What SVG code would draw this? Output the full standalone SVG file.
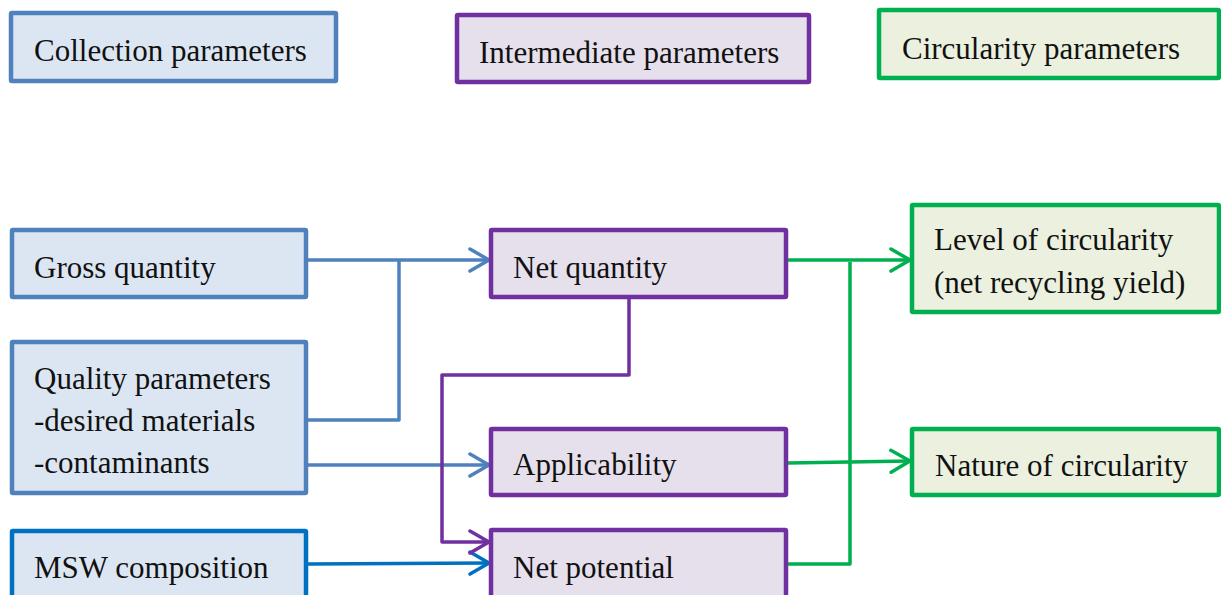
<svg xmlns="http://www.w3.org/2000/svg" width="1221" height="595" viewBox="0 0 1221 595">
<style>
text{font-family:"Liberation Serif","Times New Roman",serif;font-size:31px;fill:#111}
.b{fill:#DCE6F2;stroke:#4F81BD;stroke-width:4.5}
.b2{fill:#DCE6F2;stroke:#0070C0;stroke-width:4.5}
.p{fill:#E6E0EC;stroke:#7030A0;stroke-width:4.5}
.g{fill:#EBF1DE;stroke:#00B050;stroke-width:4.5}
.c{fill:none;stroke-width:3.5;stroke-linejoin:round}
</style>
<defs>
<marker id="ab" viewBox="0 0 24 26" refX="21" refY="13" markerWidth="24" markerHeight="26" markerUnits="userSpaceOnUse" orient="auto"><path d="M2,2 L21,13 L2,24" fill="none" stroke="#4F81BD" stroke-width="3.5" stroke-linecap="round" stroke-linejoin="round"/></marker>
<marker id="ab2" viewBox="0 0 24 26" refX="21" refY="13" markerWidth="24" markerHeight="26" markerUnits="userSpaceOnUse" orient="auto"><path d="M2,2 L21,13 L2,24" fill="none" stroke="#0070C0" stroke-width="3.5" stroke-linecap="round" stroke-linejoin="round"/></marker>
<marker id="ap" viewBox="0 0 24 26" refX="21" refY="13" markerWidth="24" markerHeight="26" markerUnits="userSpaceOnUse" orient="auto"><path d="M2,2 L21,13 L2,24" fill="none" stroke="#7030A0" stroke-width="3.5" stroke-linecap="round" stroke-linejoin="round"/></marker>
<marker id="ag" viewBox="0 0 24 26" refX="21" refY="13" markerWidth="24" markerHeight="26" markerUnits="userSpaceOnUse" orient="auto"><path d="M2,2 L21,13 L2,24" fill="none" stroke="#00B050" stroke-width="3.5" stroke-linecap="round" stroke-linejoin="round"/></marker>
</defs>
<g id="connectors">
<path class="c" stroke="#4F81BD" d="M308,260 L489,260" marker-end="url(#ab)"/>
<path class="c" stroke="#4F81BD" stroke-width="3" d="M308,420 L399,420 L399,260"/>
<path class="c" stroke="#4F81BD" d="M308,465 L489,465" marker-end="url(#ab)"/>
<path class="c" stroke="#0070C0" d="M308,564 L489,563" marker-end="url(#ab2)"/>
<path class="c" stroke="#7030A0" d="M629,298 L629,375 L442,375 L442,542 L489,542" marker-end="url(#ap)"/>
<path class="c" stroke="#00B050" d="M788,260 L910,260" marker-end="url(#ag)"/>
<path class="c" stroke="#00B050" d="M788,463 L910,461" marker-end="url(#ag)"/>
<path class="c" stroke="#00B050" stroke-width="3" d="M788,564 L850,564 L850,262"/>
</g>
<g id="collection-parameters"><rect class="b" x="11" y="13" width="325" height="68" rx="1"/><text x="34" y="61">Collection parameters</text></g>
<g id="intermediate-parameters"><rect class="p" x="457" y="15" width="352" height="67" rx="1"/><text x="479" y="63">Intermediate parameters</text></g>
<g id="circularity-parameters"><rect class="g" x="879" y="10" width="340" height="68" rx="1"/><text x="902" y="59">Circularity parameters</text></g>
<g id="gross-quantity"><rect class="b" x="12" y="230" width="294" height="67" rx="1"/><text x="34" y="278">Gross quantity</text></g>
<g id="quality-parameters"><rect class="b" x="12" y="342" width="294" height="151" rx="1"/><text x="34" y="389">Quality parameters</text><text x="34" y="431">-desired materials</text><text x="34" y="473">-contaminants</text></g>
<g id="msw-composition"><rect class="b2" x="12" y="531" width="294" height="80" rx="1"/><text x="34" y="578">MSW composition</text></g>
<g id="net-quantity"><rect class="p" x="491" y="230" width="295" height="67" rx="1"/><text x="513" y="278">Net quantity</text></g>
<g id="applicability"><rect class="p" x="491" y="429" width="295" height="66" rx="1"/><text x="513" y="475">Applicability</text></g>
<g id="net-potential"><rect class="p" x="491" y="530" width="295" height="80" rx="1"/><text x="513" y="578">Net potential</text></g>
<g id="level-of-circularity"><rect class="g" x="912" y="205" width="307" height="107" rx="1"/><text x="934" y="250">Level of circularity</text><text x="934" y="293">(net recycling yield)</text></g>
<g id="nature-of-circularity"><rect class="g" x="912" y="429" width="307" height="66" rx="1"/><text x="935" y="476">Nature of circularity</text></g>
</svg>
